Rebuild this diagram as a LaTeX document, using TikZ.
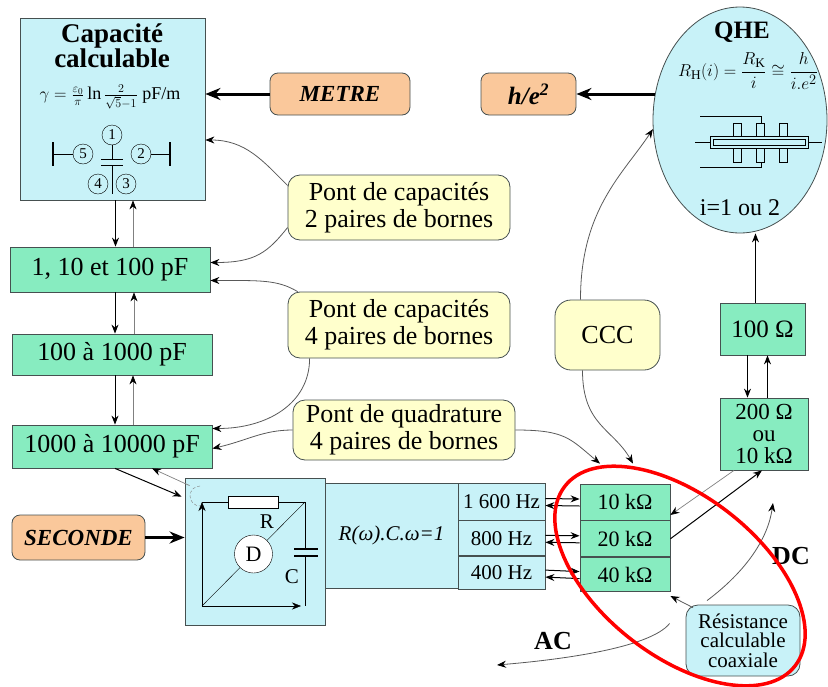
\documentclass[tikz,border=0pt]{standalone}
\usepackage{fontspec}
\setmainfont{Liberation Serif}
\usepackage{amsmath,amssymb}
\usetikzlibrary{arrows.meta,shapes.geometric,positioning}

\definecolor{cyanfill}{RGB}{200,242,248}
\definecolor{greenfill}{RGB}{135,236,192}
\definecolor{orangefill}{RGB}{250,200,155}
\definecolor{yellowfill}{RGB}{255,255,204}
\definecolor{edgegray}{RGB}{70,80,80}

\newcommand{\fsz}[1]{\fontsize{#1}{#1}\selectfont}

\begin{document}
\begin{tikzpicture}[x=1pt,y=-1pt,>={Stealth[length=9pt,width=7pt]},thick,
  green node/.style={rectangle,draw=edgegray,fill=greenfill,inner sep=0pt,font=\fsz{26}},
  cyan node/.style={rectangle,draw=edgegray,fill=cyanfill,inner sep=0pt},
  unit node/.style={rectangle,rounded corners=8pt,draw=edgegray,fill=orangefill,inner sep=0pt,font=\bfseries\itshape\fsz{23}},
  pont node/.style={rectangle,rounded corners=12pt,draw=edgegray,fill=yellowfill,inner sep=0pt,align=center,font=\fontsize{26}{27}\selectfont},
  freq node/.style={cyan node,minimum width=87pt,font=\fsz{21}},
  ohm node/.style={green node,minimum width=90pt,font=\fsz{22}},
  small circ/.style={circle,draw,thin,minimum size=20pt,inner sep=0pt,font=\fsz{15}},
  dark arrow/.style={->,black,line width=1pt},
  light arrow/.style={-{Stealth[length=9pt,width=7pt,black]},draw=gray,line width=0.7pt},
  curve arrow/.style={-{Stealth[length=9pt,width=7pt,black]},draw=black!65,line width=0.8pt},
  big arrow/.style={-{Stealth[length=15pt,width=12pt]},line width=3pt}]

  \useasboundingbox (0,0) rectangle (828,686);

  % capacite calculable
  \node[cyan node,minimum width=185pt,minimum height=182pt] (calc) at (112.5,109) {};
  \node[font=\bfseries\fontsize{27}{22}\selectfont,align=center,inner sep=0pt] (calctitle) at (112,46) {Capacité\\calculable};
  \node[font=\fsz{18},inner sep=0pt] (calcformula) at (110,97) {$\gamma=\frac{\varepsilon_0}{\pi}\ln\frac{2}{\sqrt{5}-1}$ pF/m};
  \node[small circ] (e1) at (112,135) {1};
  \node[small circ] (e5) at (83,154) {5};
  \node[small circ] (e2) at (141,154) {2};
  \node[small circ] (e4) at (98,184) {4};
  \node[small circ] (e3) at (126,184) {3};
  \coordinate (barl) at (53,154);
  \coordinate (barr) at (170,154);
  \draw[thin] (e5.west) -- (barl) (e2.east) -- (barr);
  \draw[line width=2.2pt] ([yshift=12pt]barl) -- ([yshift=-12pt]barl)
    ([yshift=12pt]barr) -- ([yshift=-12pt]barr);
  \draw[thin] (e1.south) -- (112,159) (101,159) -- (123,159)
    (101,165) -- (123,165) (112,165) -- (112,194);

  \node[unit node,minimum width=140pt,minimum height=42pt] (metre) at (340,94) {METRE};
  \node[unit node,minimum width=95pt,minimum height=42pt,font=\bfseries\itshape\fsz{25}] (hoe) at (528.5,94) {h/e\textsuperscript{2}};

  % QHE
  \node[ellipse,draw=edgegray,fill=cyanfill,minimum width=174pt,minimum height=226pt,inner sep=0pt] (qhe) at (740,120) {};
  \node[font=\bfseries\fsz{25}] (qhetitle) at (742,32) {QHE};
  \node[font=\fsz{19},inner sep=0pt] (qheformula) at (748,71) {$R_{\mathrm{H}}(i)=\dfrac{R_{\mathrm{K}}}{i}\cong\dfrac{h}{i.e^2}$};
  \node[font=\fsz{24}] (qhei) at (740,208) {i=1 ou 2};
  \draw[thin] (700,116) -- (761,116) -- (761,123)
    (700,167) -- (761,167) -- (761,162);
  \foreach \x in {733,756,779}
    \draw[thin,fill=cyanfill] (\x,123) rectangle (\x+8,162);
  \draw[thin,fill=cyanfill] (710,136) rectangle (808,148);
  \draw[thin] (713,139) rectangle (805,145);
  \draw[thin] (695,142) -- (710,142) (808,142) -- (822,142);

  % capacites
  \node[green node,minimum width=200pt,minimum height=45pt] (c1) at (110,269.5) {1, 10 et 100 pF};
  \node[green node,minimum width=200pt,minimum height=41pt] (c2) at (112,354.5) {100 à 1000 pF};
  \node[green node,minimum width=200pt,minimum height=43pt] (c3) at (112,446.5) {1000 à 10000 pF};

  \node[pont node,minimum width=222pt,minimum height=65pt] (pont2) at (399,207.5) {Pont de capacités\\2 paires de bornes};
  \node[pont node,minimum width=222pt,minimum height=66pt] (pont4) at (399,325) {Pont de capacités\\4 paires de bornes};
  \node[pont node,minimum width=222pt,minimum height=60pt] (quad) at (404,430) {Pont de quadrature\\4 paires de bornes};
  \node[pont node,minimum width=105pt,minimum height=70pt,rounded corners=16pt] (ccc) at (607.5,335) {CCC};

  % pont de quadrature
  \node[cyan node,minimum width=140pt,minimum height=147pt] (bridge) at (255,551.5) {};
  \node[cyan node,minimum width=133pt,minimum height=105pt,font=\itshape\fsz{21}] (rc) at (391.5,535.5) {R(ω).C.ω=1};
  \node[freq node,minimum height=37pt] (f1) at (501.5,501.5) {1 600 Hz};
  \node[freq node,minimum height=35pt,below=0pt of f1] (f2) {800 Hz};
  \node[freq node,minimum height=33pt,below=0pt of f2] (f3) {400 Hz};
  \node[ohm node,minimum height=36pt] (r1) at (625,502) {10 kΩ};
  \node[ohm node,minimum height=36pt,below=0pt of r1] (r2) {20 kΩ};
  \node[ohm node,minimum height=34pt,below=0pt of r2] (r3) {40 kΩ};

  \coordinate (tl) at (202,502);
  \coordinate (tr) at (305,502);
  \coordinate (br) at (305,606);
  \coordinate (bl) at (202,606);
  \draw[thin] (tl) -- (228,502) (278,502) -- (tr) -- (305,549) (305,556) -- (br);
  \draw[thin,fill=white] (228,496) rectangle (278,508);
  \draw[line width=1.2pt] (294,549) -- (318,549) (294,556) -- (318,556);
  \draw[thin] (tr) -- (bl);
  \draw[->,thin] (bl) -- (tl);
  \draw[->,thin,shorten >=4pt] (bl) -- (br);
  \node[circle,draw,thin,fill=white,minimum size=38pt,inner sep=0pt,font=\fsz{22}] (det) at (253.5,554) {D};
  \node[font=\fsz{21}] (rlabel) at (267,522) {R};
  \node[font=\fsz{21}] (clabel) at (292,577) {C};
  \draw[gray,densely dashed,thin] (200,486) arc[start angle=90,end angle=270,radius=10pt];

  \node[unit node,minimum width=133pt,minimum height=45pt] (seconde) at (78.5,537.5) {SECONDE};

  % resistances
  \node[green node,minimum width=85pt,minimum height=52pt,font=\fsz{25}] (ohm100) at (762.5,329) {100 Ω};
  \node[green node,minimum width=88pt,minimum height=72pt,align=center,font=\fontsize{23}{22}\selectfont] (ohm200) at (764,434) {200 Ω\\ou\\10 kΩ};
  \node[cyan node,rounded corners=12pt,minimum width=114pt,minimum height=71pt,align=center,font=\fontsize{21}{19.5}\selectfont] (resist) at (743,640.5) {Résistance\\calculable\\coaxiale};
  \node[font=\bfseries\fsz{26}] (ac) at (553,641) {AC};
  \node[font=\bfseries\fsz{26}] (dc) at (791,556) {DC};
  \coordinate (dcend) at (773,503);
  \coordinate (acend) at (497,665);

  % connecteurs
  \draw[big arrow] (metre.west) -- (metre.west -| calc.east);
  \draw[big arrow] (qhe.163) -- (qhe.163 -| hoe.east);
  \draw[big arrow] (seconde.east) -- (seconde.east -| bridge.west);

  \draw[dark arrow] ([xshift=3pt]calc.south) -- ([xshift=3pt]calc.south |- c1.north);
  \draw[light arrow] ([xshift=23pt]c1.north) -- ([xshift=23pt]c1.north |- calc.south);
  \draw[dark arrow] ([xshift=3pt]c2.north |- c1.south) -- ([xshift=3pt]c2.north);
  \draw[light arrow] ([xshift=22pt]c2.north) -- ([xshift=22pt]c2.north |- c1.south);
  \draw[dark arrow] ([xshift=3pt]c3.north |- c2.south) -- ([xshift=3pt]c3.north);
  \draw[light arrow] ([xshift=21pt]c3.north) -- ([xshift=21pt]c3.north |- c2.south);
  \draw[dark arrow] ([xshift=3pt]c3.south) -- ([xshift=-3pt,yshift=-19pt]bridge.north west);
  \draw[light arrow] ([xshift=5pt,yshift=-8pt]bridge.north west) -- ([xshift=40pt]c3.south);

  \draw[curve arrow] ([yshift=22pt]pont2.west) .. controls +(-25,-25) and +(40,0) .. ([yshift=-31pt]calc.east);
  \draw[curve arrow] ([yshift=-20pt]pont2.west) .. controls +(-20,25) and +(45,0) .. ([yshift=7pt]c1.east);
  \draw[curve arrow] ([xshift=10pt]pont4.north west) .. controls +(-20,-12) and +(50,0) .. ([yshift=-11pt]c1.east);
  \draw[curve arrow] ([xshift=22pt]pont4.south west) .. controls +(0,45) and +(55,0) .. ([yshift=18pt]c3.east);
  \draw[curve arrow] (quad.west) .. controls +(-30,0) and +(35,-8) .. ([yshift=-2pt]c3.east);
  \draw[curve arrow] (quad.east) .. controls +(50,0) and +(-30,-25) .. ([xshift=-25pt,yshift=20pt]r1.north);
  \draw[curve arrow] ([xshift=-25pt]ccc.south) .. controls +(0,55) and +(-20,-35) .. ([xshift=8pt,yshift=20pt]r1.north);
  \draw[curve arrow] ([xshift=-27pt]ccc.north) .. controls +(0,-90) and +(-30,45) .. (qhe.186);

  \foreach \i in {1,2,3} {
    \draw[dark arrow] ([yshift=3pt]f\i.east) -- ([yshift=3pt]r\i.west);
    \draw[dark arrow] ([yshift=-4pt]r\i.west) -- ([yshift=-4pt]f\i.east);
  }

  \draw[dark arrow] ([xshift=-7pt]ohm100.north) -- ([xshift=-7pt]ohm100.north |- qhe.south);
  \draw[dark arrow] ([xshift=-15pt]ohm100.south) -- ([xshift=-15pt]ohm100.south |- ohm200.north);
  \draw[dark arrow] ([xshift=5pt]ohm100.south |- ohm200.north) -- ([xshift=5pt]ohm100.south);
  \draw[light arrow] ([xshift=-30pt]ohm200.south) -- ([yshift=-13pt]r1.east);
  \draw[dark arrow] (r2.east) -- ([xshift=-2pt]ohm200.south);

  \draw[curve arrow] ([xshift=-50pt,yshift=-3pt]resist.north) -- ([yshift=-4pt]r3.south east);
  \draw[curve arrow] ([xshift=-36pt,yshift=4pt]resist.north) .. controls +(40,-30) and +(-5,35) .. (dcend);
  \draw[curve arrow] ([xshift=-16pt,yshift=17pt]resist.west) .. controls +(-20,25) and +(60,-5) .. (acend);

  \node[ellipse,draw=red,line width=3.5pt,minimum width=292pt,minimum height=160pt,rotate=-38] (ring) at (680,576) {};
\end{tikzpicture}
\end{document}
